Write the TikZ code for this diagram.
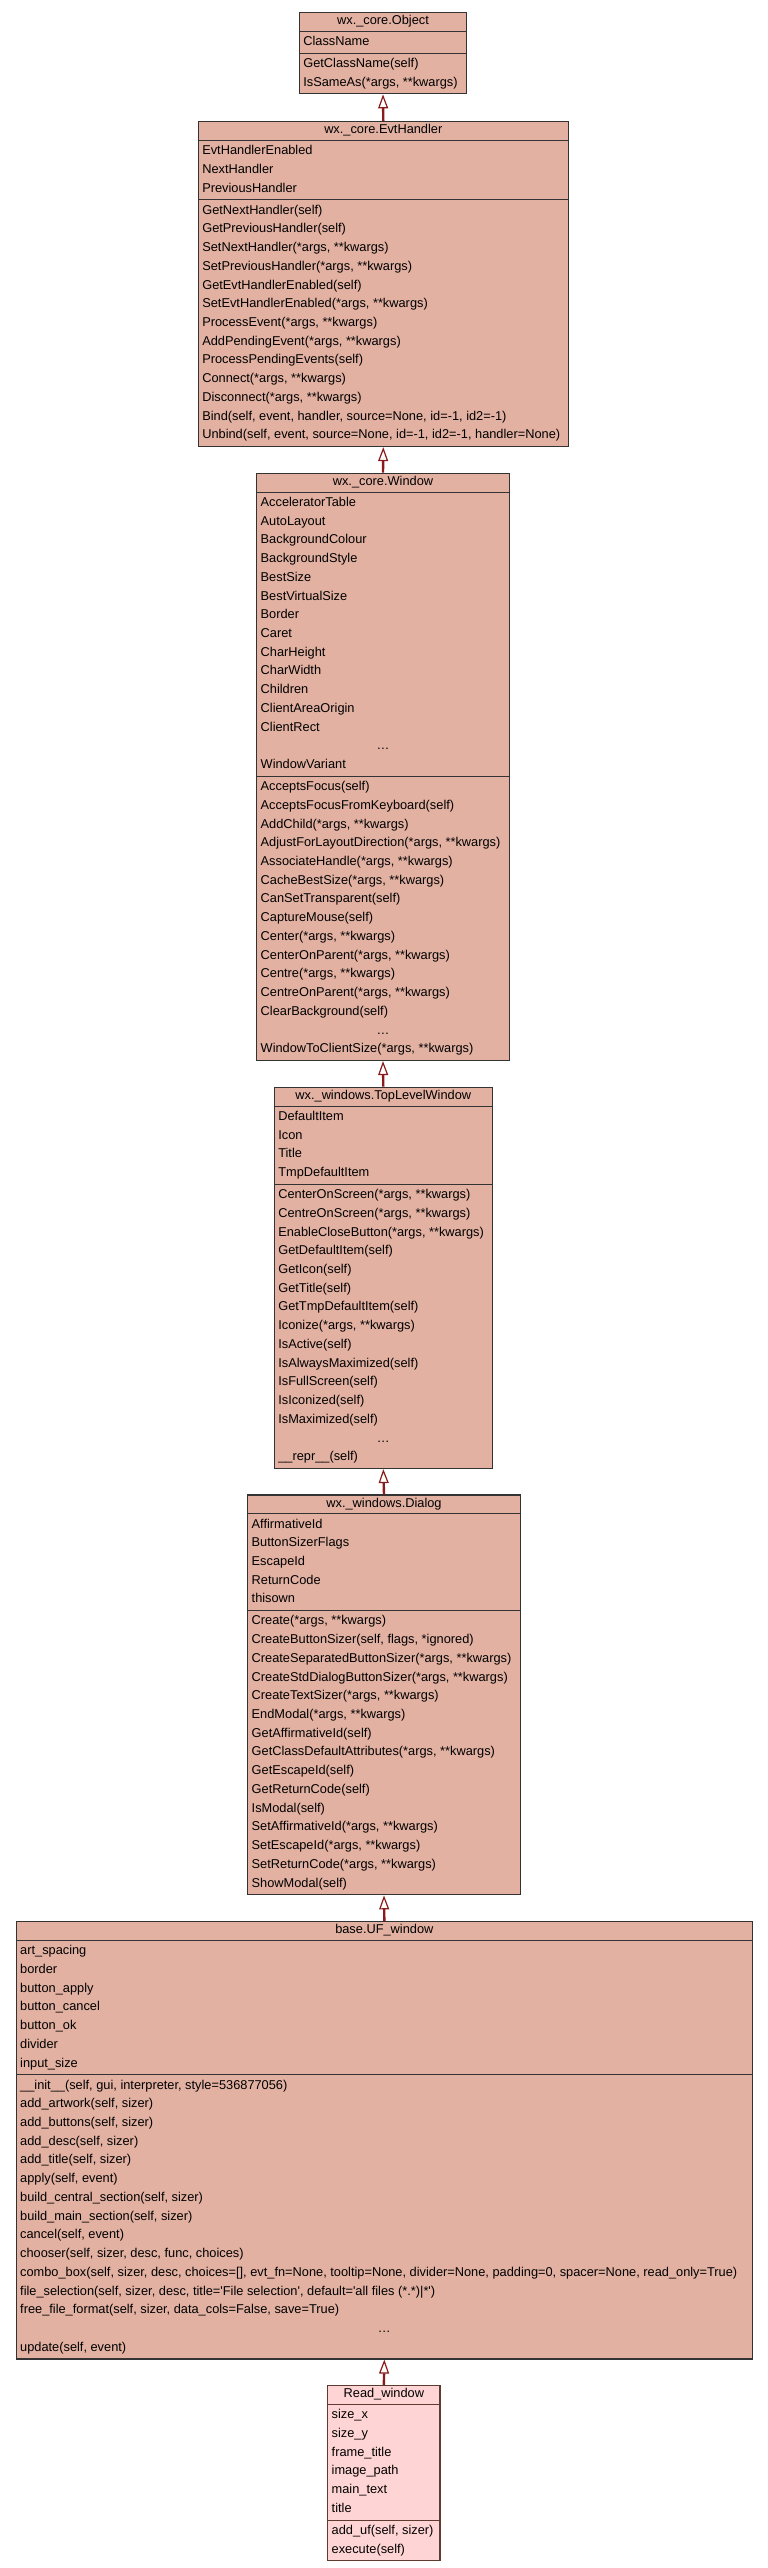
\documentclass[tikz,border=0pt]{standalone}
\usepackage{fontspec}
\usetikzlibrary{shapes.multipart, arrows.meta}
\usepackage{xcolor}
\newfontfamily\umlfont{Liberation Sans}
\definecolor{boxfill}{HTML}{E2B1A2}
\definecolor{boxline}{HTML}{333333}
\definecolor{readfill}{HTML}{FFD4D4}
\definecolor{readline}{HTML}{5E3B2E}
\definecolor{arrowred}{HTML}{8B1A1A}
\newcommand{\rowstrut}{\vrule width0pt height12.6pt depth6.13pt}
\newcommand{\headstrut}{\vrule width0pt height10.7pt depth5pt}
\newcommand{\cls}[1]{\vbox{\hsize=\clswidth\offinterlineskip #1}}
\newcommand{\head}[1]{\hbox to\hsize{\hfil\headstrut #1\hfil}}
\newcommand{\ent}[1]{\hbox to\hsize{\rowstrut #1\hfil}}
\newcommand{\skipped}{\hbox to\hsize{\hfil\rowstrut …\hfil}}

\begin{document}
\begin{tikzpicture}[x=1pt, y=1pt,
  cw/.code={\def\clswidth{#1}},
  umlclass/.style={rectangle split, rectangle split parts=3, anchor=north,
    draw=boxline, fill=boxfill, line width=1.2pt, inner xsep=4pt, inner ysep=1pt,
    font=\umlfont\fontsize{12.8}{18.73}\selectfont},
  readclass/.style={umlclass, draw=readline, fill=readfill},
  inherit/.style={draw=arrowred, line width=2.4pt,
    -{Triangle[fill=white, length=14pt, width=10pt, line width'=1.2pt]}}]
\fill[white] (0,0) rectangle (768,-2568);
%classes
\node[umlclass, cw=159.4pt] (obj) at (383,-11.7)
  {\cls{\head{wx.\_core.Object}}
   \nodepart{two}\cls{\ent{ClassName}}
   \nodepart{three}\cls{\ent{GetClassName(self)}\ent{IsSameAs(*args, **kwargs)}}};

\node[umlclass, cw=362pt] (evt) at (383.3,-121)
  {\cls{\head{wx.\_core.EvtHandler}}
   \nodepart{two}\cls{\ent{EvtHandlerEnabled}\ent{NextHandler}\ent{PreviousHandler}}
   \nodepart{three}\cls{\ent{GetNextHandler(self)}\ent{GetPreviousHandler(self)}
     \ent{SetNextHandler(*args, **kwargs)}\ent{SetPreviousHandler(*args, **kwargs)}
     \ent{GetEvtHandlerEnabled(self)}\ent{SetEvtHandlerEnabled(*args, **kwargs)}
     \ent{ProcessEvent(*args, **kwargs)}\ent{AddPendingEvent(*args, **kwargs)}
     \ent{ProcessPendingEvents(self)}\ent{Connect(*args, **kwargs)}
     \ent{Disconnect(*args, **kwargs)}
     \ent{Bind(self, event, handler, source=None, id=-1, id2=-1)}
     \ent{Unbind(self, event, source=None, id=-1, id2=-1, handler=None)}}};

\node[umlclass, cw=244.6pt] (win) at (383,-472.7)
  {\cls{\head{wx.\_core.Window}}
   \nodepart{two}\cls{\ent{AcceleratorTable}\ent{AutoLayout}\ent{BackgroundColour}
     \ent{BackgroundStyle}\ent{BestSize}\ent{BestVirtualSize}\ent{Border}\ent{Caret}
     \ent{CharHeight}\ent{CharWidth}\ent{Children}\ent{ClientAreaOrigin}\ent{ClientRect}
     \skipped\ent{WindowVariant}}
   \nodepart{three}\cls{\ent{AcceptsFocus(self)}\ent{AcceptsFocusFromKeyboard(self)}
     \ent{AddChild(*args, **kwargs)}\ent{AdjustForLayoutDirection(*args, **kwargs)}
     \ent{AssociateHandle(*args, **kwargs)}\ent{CacheBestSize(*args, **kwargs)}
     \ent{CanSetTransparent(self)}\ent{CaptureMouse(self)}\ent{Center(*args, **kwargs)}
     \ent{CenterOnParent(*args, **kwargs)}\ent{Centre(*args, **kwargs)}
     \ent{CentreOnParent(*args, **kwargs)}\ent{ClearBackground(self)}
     \skipped\ent{WindowToClientSize(*args, **kwargs)}}};

\node[umlclass, cw=210pt] (top) at (383.3,-1086.7)
  {\cls{\head{wx.\_windows.TopLevelWindow}}
   \nodepart{two}\cls{\ent{DefaultItem}\ent{Icon}\ent{Title}\ent{TmpDefaultItem}}
   \nodepart{three}\cls{\ent{CenterOnScreen(*args, **kwargs)}
     \ent{CentreOnScreen(*args, **kwargs)}\ent{EnableCloseButton(*args, **kwargs)}
     \ent{GetDefaultItem(self)}\ent{GetIcon(self)}\ent{GetTitle(self)}
     \ent{GetTmpDefaultItem(self)}\ent{Iconize(*args, **kwargs)}\ent{IsActive(self)}
     \ent{IsAlwaysMaximized(self)}\ent{IsFullScreen(self)}\ent{IsIconized(self)}
     \ent{IsMaximized(self)}\skipped\ent{\_\_repr\_\_(self)}}};

\node[umlclass, cw=264.6pt] (dlg) at (384,-1494.3)
  {\cls{\head{wx.\_windows.Dialog}}
   \nodepart{two}\cls{\ent{AffirmativeId}\ent{ButtonSizerFlags}\ent{EscapeId}
     \ent{ReturnCode}\ent{thisown}}
   \nodepart{three}\cls{\ent{Create(*args, **kwargs)}
     \ent{CreateButtonSizer(self, flags, *ignored)}
     \ent{CreateSeparatedButtonSizer(*args, **kwargs)}
     \ent{CreateStdDialogButtonSizer(*args, **kwargs)}
     \ent{CreateTextSizer(*args, **kwargs)}\ent{EndModal(*args, **kwargs)}
     \ent{GetAffirmativeId(self)}\ent{GetClassDefaultAttributes(*args, **kwargs)}
     \ent{GetEscapeId(self)}\ent{GetReturnCode(self)}\ent{IsModal(self)}
     \ent{SetAffirmativeId(*args, **kwargs)}\ent{SetEscapeId(*args, **kwargs)}
     \ent{SetReturnCode(*args, **kwargs)}\ent{ShowModal(self)}}};

\node[umlclass, cw=728.3pt] (ufw) at (384.35,-1921)
  {\cls{\head{base.UF\_window}}
   \nodepart{two}\cls{\ent{art\_spacing}\ent{border}\ent{button\_apply}
     \ent{button\_cancel}\ent{button\_ok}\ent{divider}\ent{input\_size}}
   \nodepart{three}\cls{\ent{\_\_init\_\_(self, gui, interpreter, style=536877056)}
     \ent{add\_artwork(self, sizer)}\ent{add\_buttons(self, sizer)}
     \ent{add\_desc(self, sizer)}\ent{add\_title(self, sizer)}\ent{apply(self, event)}
     \ent{build\_central\_section(self, sizer)}\ent{build\_main\_section(self, sizer)}
     \ent{cancel(self, event)}\ent{chooser(self, sizer, desc, func, choices)}
     \ent{combo\_box(self, sizer, desc, choices=[], evt\_fn=None, tooltip=None, divider=None, padding=0, spacer=None, read\_only=True)}
     \ent{file\_selection(self, sizer, desc, title='File selection', default='all files (*.*)|*')}
     \ent{free\_file\_format(self, sizer, data\_cols=False, save=True)}
     \skipped\ent{update(self, event)}}};

\node[readclass, cw=104.3pt] (read) at (383.85,-2385)
  {\cls{\head{Read\_window}}
   \nodepart{two}\cls{\ent{size\_x}\ent{size\_y}\ent{frame\_title}\ent{image\_path}
     \ent{main\_text}\ent{title}}
   \nodepart{three}\cls{\ent{add\_uf(self, sizer)}\ent{execute(self)}}};
%inheritance
\draw[inherit] (evt.north) -- (obj.south);
\draw[inherit] (win.north) -- (evt.south);
\draw[inherit] (top.north) -- (win.south);
\draw[inherit] (dlg.north) -- (top.south);
\draw[inherit] (ufw.north) -- (dlg.south);
\draw[inherit] (read.north) -- (ufw.south);
\end{tikzpicture}
\end{document}
